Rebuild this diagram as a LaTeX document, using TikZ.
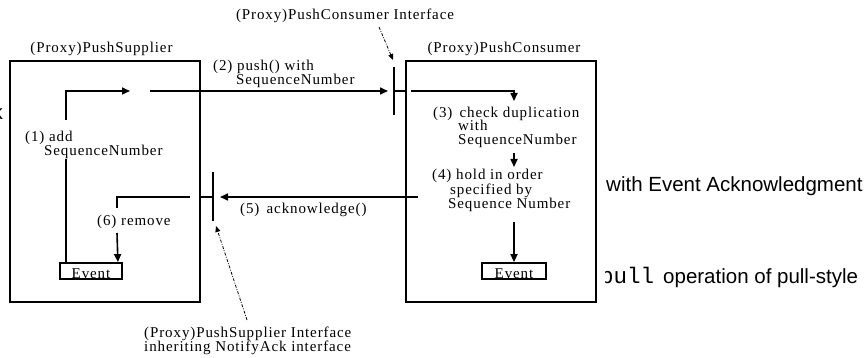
\documentclass[tikz,border=0pt]{standalone}
\usepackage{fontspec}
\setmainfont{Liberation Serif}[LetterSpace=6]
\setsansfont{Liberation Sans}
\setmonofont{Liberation Mono}
\usetikzlibrary{arrows.meta}

\begin{document}
\begin{tikzpicture}[x=1pt,y=-1pt,
  box/.style={draw,line width=1.8pt,inner sep=0pt},
  wire/.style={line width=1.6pt},
  arr/.style={wire,-{Triangle[length=8pt,width=7pt]}},
  dotarr/.style={line width=0.8pt,dash pattern=on 3pt off 1.5pt on 0.8pt off 1.5pt,
                 -{Triangle[length=6pt,width=5pt]}},
  lbl/.style={font=\fontsize{15}{15}\selectfont,inner sep=0pt,anchor=base west},
  ttl/.style={font=\fontsize{15}{15}\selectfont,inner sep=0pt,anchor=base},
  side/.style={font=\sffamily\fontsize{20.5}{24}\selectfont,inner sep=0pt,anchor=base west},
]
\useasboundingbox (0,0) rectangle (864,358);

% the two objects
\node[box,minimum width=190pt,minimum height=241pt] (sup) at (105,181.5) {};
\node[box,minimum width=190pt,minimum height=241pt] (con) at (501,181.5) {};
\node[ttl] (supt) at (101.5,53) {(Proxy)PushSupplier};
\node[ttl] (cont) at (504,53) {(Proxy)PushConsumer};

% event records
\node[box,minimum width=62pt,minimum height=16pt] (ev1) at (91,271) {};
\node[box,minimum width=64pt,minimum height=16pt] (ev2) at (514,271) {};
\node[ttl] (ev1t) at (91,278) {Event};
\node[ttl] (ev2t) at (514,278) {Event};

% interface bars
\coordinate (pcT) at (394,67);
\coordinate (pcB) at (394,115);
\coordinate (pcM) at (394,91);
\coordinate (psT) at (213,172);
\coordinate (psB) at (213,221);
\coordinate (psM) at (213,197);
\draw[wire] (pcT) -- (pcB);
\draw[wire] (psT) -- (psB);

% step labels, one node per line
\node[lbl] (l1a) at (25,142) {(1) add};
\node[lbl] (l1b) at (44,156) {SequenceNumber};
\node[lbl] (l2a) at (213,71) {(2) push() with};
\node[lbl] (l2b) at (236,85) {SequenceNumber};
\node[lbl] (l3a) at (433,118) {(3)\, check duplication};
\node[lbl] (l3b) at (458,131) {with};
\node[lbl] (l3c) at (458,145) {SequenceNumber};
\node[lbl] (l4a) at (432,180) {(4) hold in order};
\node[lbl] (l4b) at (450,194) {specified by};
\node[lbl] (l4c) at (448,208) {Sequence Number};
\node[lbl] (l5) at (240,213) {(5)\, acknowledge()};
\node[lbl] (l6) at (97,225) {(6) remove};

% flow of an event
\coordinate (a1s) at (66,263);
\coordinate (a1b) at (66,159);
\coordinate (a1t) at (66,120);
\coordinate (a1e) at (130,91);
\draw[wire] (a1s) -- (a1b);
\draw[arr] (a1t) |- (a1e);
\draw[arr,shorten >=6pt] (150,91) -- (pcM);
\draw[wire] (pcM) -- (con.west |- pcM);
\draw[arr] ([xshift=6pt]con.west |- pcM) -| (514,101);
\draw[arr] (514,153) -- (514,167);
\draw[arr] (514,222) -- (ev2.north);

% acknowledgement back to the supplier
\draw[arr,shorten >=7pt] (418,197) -- (psM);
\draw[wire] (psM) -- (sup.east |- psM);
\coordinate (a6t) at (117,208);
\coordinate (a6b) at (117,233);
\draw[wire] ([xshift=-11pt]sup.east |- psM) -| (a6t);
\draw[arr] (a6b) -- ([xshift=-5pt]ev1.north east);

% interface annotations
\node[ttl] (pcl) at (345,20) {(Proxy)PushConsumer Interface};
\node[lbl] (psla) at (144,337) {(Proxy)PushSupplier Interface};
\node[lbl] (pslb) at (144,351) {inheriting NotifyAck interface};
\draw[dotarr] (379,27) -- (393,60);
\draw[dotarr] (247,320) -- (216,226);

% surrounding text
\node[side] (s1) at (606,191) {with Event Acknowledgment};
\begin{scope}
  \clip (605,250) rectangle (864,300);
  \node[side,font=\ttfamily\fontsize{22.5}{26}\selectfont] (s2) at (600,283) {pull};
\end{scope}
\node[side] (s3) at (663,283) {operation of pull-style};
\begin{scope}
  \clip (0,100) rectangle (10,130);
  \node[side,anchor=base east] (s4) at (3,120) {k};
\end{scope}
\end{tikzpicture}
\end{document}
